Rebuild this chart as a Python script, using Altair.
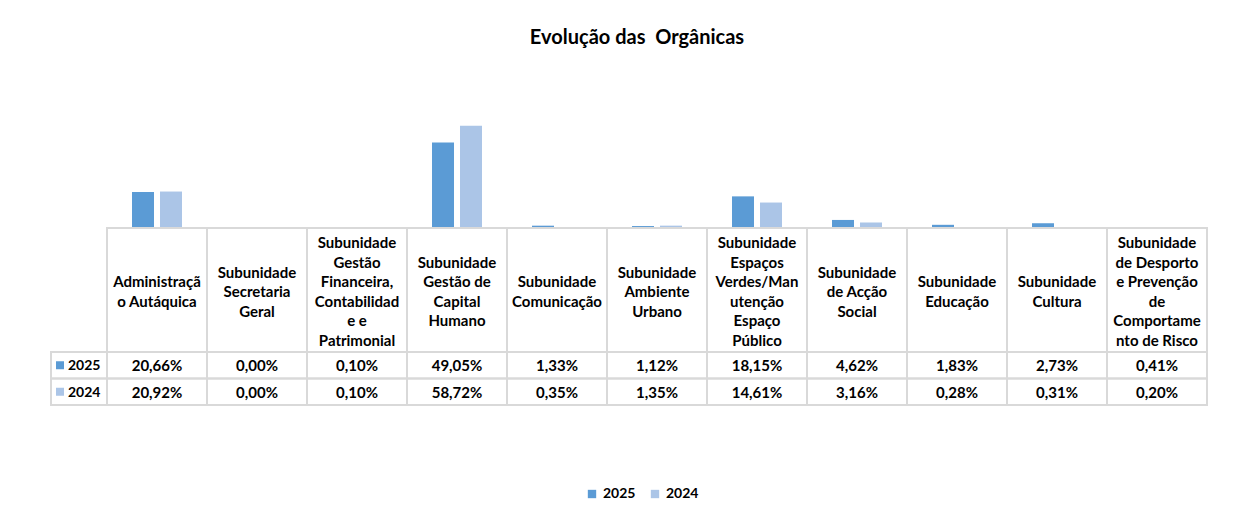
import altair as alt
import pandas as pd

# ---------------- data ----------------
categories = [
    "Administraçã\no Autáquica",
    "Subunidade\nSecretaria\nGeral",
    "Subunidade\nGestão\nFinanceira,\nContabilidad\ne e\nPatrimonial",
    "Subunidade\nGestão de\nCapital\nHumano",
    "Subunidade\nComunicação",
    "Subunidade\nAmbiente\nUrbano",
    "Subunidade\nEspaços\nVerdes/Man\nutenção\nEspaço\nPúblico",
    "Subunidade\nde Acção\nSocial",
    "Subunidade\nEducação",
    "Subunidade\nCultura",
    "Subunidade\nde Desporto\ne Prevenção\nde\nComportame\nnto de Risco",
]
years = ["2025", "2024"]
values_2025 = [20.66, 0.00, 0.10, 49.05, 1.33, 1.12, 18.15, 4.62, 1.83, 2.73, 0.41]
values_2024 = [20.92, 0.00, 0.10, 58.72, 0.35, 1.35, 14.61, 3.16, 0.28, 0.31, 0.20]
colors = ["#5B9BD5", "#ABC5E7"]
title_text = "Evolução das\u00a0 Orgânicas"

# ---------------- style ----------------
FONT = "Lato"
GRID = "#D9D9D9"
W, LW = 1100, 56
H_BARS, H_HEAD, H_ROWS = 122, 124, 53
LINE_H = 19.5

rows = []
for i, c in enumerate(categories):
    for y, vals in zip(years, [values_2025, values_2024]):
        rows.append({"cat": c, "year": y, "value": vals[i],
                     "label": f"{vals[i]:.2f}%".replace(".", ",")})
df = pd.DataFrame(rows)
hdf = pd.DataFrame({"cat": categories, "row": ["h"] * len(categories)})
ldf = pd.DataFrame({"year": years})

# one record per header line, positioned (in line units) around the cell centre
lines = []
for c in categories:
    parts = c.split("\n")
    n = len(parts)
    for k, p in enumerate(parts):
        lines.append({"cat": c, "text": p, "pos": k - (n - 1) / 2})
ldf_lines = pd.DataFrame(lines)
half = H_HEAD / 2 / LINE_H

x_enc = alt.X("cat:N", sort=categories, axis=None,
              scale=alt.Scale(paddingInner=0, paddingOuter=0))
color_scale = alt.Scale(domain=years, range=colors)
row_y = alt.Y("year:N", sort=years, axis=None,
              scale=alt.Scale(paddingInner=0, paddingOuter=0))
head_y = alt.Y("row:N", axis=None, scale=alt.Scale(paddingInner=0, paddingOuter=0))

txt = dict(font=FONT, fontSize=15, fontWeight="bold", color="#000000")
txt14 = dict(font=FONT, fontSize=14, fontWeight="bold", color="#000000")

bars = alt.Chart(df).mark_bar().encode(
    x=x_enc,
    xOffset=alt.XOffset("year:N", sort=years,
                        scale=alt.Scale(paddingInner=0.214, paddingOuter=0.893)),
    y=alt.Y("value:Q", scale=alt.Scale(domain=[0, 70]), axis=None),
    color=alt.Color("year:N", scale=color_scale,
                    legend=alt.Legend(orient="none", legendX=534, legendY=381,
                                      direction="horizontal", title=None,
                                      symbolType="square", symbolSize=70,
                                      symbolStrokeWidth=0, labelFont=FONT,
                                      labelFontSize=14, labelFontWeight="bold",
                                      labelColor="#000000", columnPadding=12,
                                      symbolOffset=0)),
).properties(width=W, height=H_BARS)

header = alt.layer(
    alt.Chart(hdf).mark_rect(fill="white", fillOpacity=0, stroke=GRID, strokeWidth=2)
    .encode(x=x_enc, y=head_y),
    alt.Chart(ldf_lines).mark_text(baseline="middle", align="center", dy=2, **txt)
    .encode(x=x_enc,
            y=alt.Y("pos:Q", axis=None,
                    scale=alt.Scale(domain=[-half, half], reverse=True, nice=False, zero=False)),
            text="text:N"),
).resolve_scale(y="independent").properties(width=W, height=H_HEAD)

table = alt.layer(
    alt.Chart(df).mark_rect(fill="white", fillOpacity=0, stroke=GRID, strokeWidth=2)
    .encode(x=x_enc, y=row_y),
    alt.Chart(df).mark_text(baseline="middle", align="center", dy=1, **txt)
    .encode(x=x_enc, y=row_y, text="label:N"),
).properties(width=W, height=H_ROWS)

labels = alt.layer(
    alt.Chart(ldf).mark_rect(fill="white", fillOpacity=0, stroke=GRID, strokeWidth=2)
    .encode(y=row_y),
    alt.Chart(ldf).mark_point(shape="square", filled=True, size=64, opacity=1)
    .encode(x=alt.value(9), y=row_y,
            color=alt.Color("year:N", scale=color_scale, legend=None)),
    alt.Chart(ldf).mark_text(baseline="middle", align="left", dy=1, **txt14)
    .encode(x=alt.value(17), y=row_y, text="year:N"),
).properties(width=LW, height=H_ROWS)


def blank(h):
    return alt.Chart(pd.DataFrame({"a": [""]})).mark_text(opacity=0).encode(
        x=alt.value(0), y=alt.value(0), text="a:N").properties(width=LW, height=h)


chart = alt.concat(
    blank(H_BARS), bars,
    blank(H_HEAD), header,
    labels, table,
    columns=2, spacing=0, bounds="flush",
).properties(
    title=alt.Title(title_text, font=FONT, fontSize=20, fontWeight="bold",
                    color="#000000", anchor="middle", offset=52, dx=8),
    padding={"left": 42, "top": 20, "right": 10, "bottom": 5},
    background="white",
).configure_view(stroke=None)

chart.save("out.html", embed_options={"renderer": "svg", "actions": False})
